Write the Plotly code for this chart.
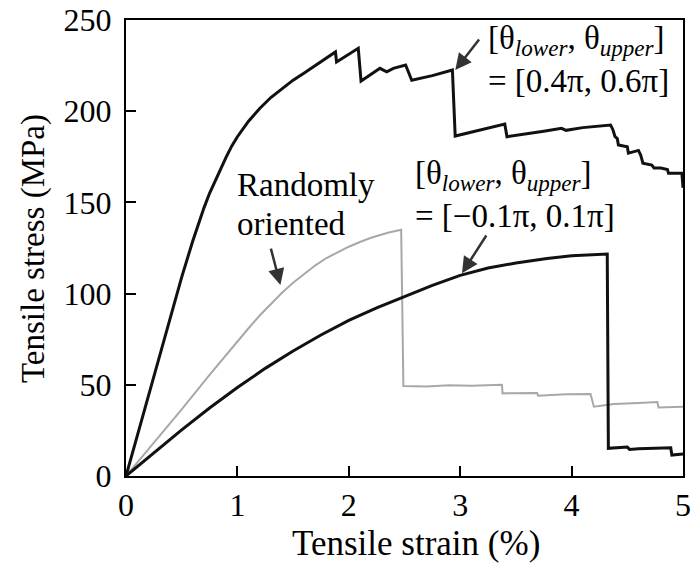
import plotly.graph_objects as go

# Stress-strain curves (strain in %, stress in MPa)
strain_a = [0, 0.1, 0.2, 0.3, 0.4, 0.5, 0.6, 0.65, 0.7, 0.75, 0.8, 0.85, 0.9, 0.95,
            1.0, 1.1, 1.2, 1.3, 1.4, 1.5, 1.6, 1.7, 1.8, 1.88, 1.89, 2.085, 2.11,
            2.28, 2.34, 2.4, 2.51, 2.565, 2.75, 2.93, 2.955, 3.1, 3.25, 3.40, 3.42,
            3.6, 3.75, 3.91, 3.95, 4.1, 4.35, 4.37, 4.39, 4.41, 4.42, 4.5, 4.51,
            4.6, 4.62, 4.64, 4.72, 4.74, 4.8, 4.86, 4.87, 4.99, 5.0]
stress_a = [0, 22, 44, 66, 88, 109, 129, 138.5, 147, 155, 162, 169, 175, 181,
            186, 194.5, 201.5, 207.5, 212.5, 217, 221, 225, 229, 232.5, 227, 234.5, 216.5,
            223.5, 221.6, 223.5, 225.3, 217, 219.5, 222.6, 186.4, 188.5, 190.5, 193, 186,
            187.5, 189, 190.6, 189.5, 191, 192.4, 190, 186, 185, 181.5, 180.5, 177,
            178.5, 176, 171.5, 170.5, 168.8, 168.8, 168, 166, 166, 158]

strain_rand = [0, 0.25, 0.5, 0.75, 1.0, 1.1, 1.2, 1.3, 1.4, 1.5, 1.6, 1.7, 1.8,
               1.9, 2.0, 2.1, 2.2, 2.35, 2.47, 2.49,
               2.7, 2.9, 3.1, 3.375, 3.38, 3.69, 3.70, 3.95, 4.17, 4.2, 4.38, 4.6,
               4.77, 4.78, 5.0]
stress_rand = [0, 18, 36.5, 55.5, 74, 81, 88, 94.5, 100.5, 106, 111, 115.5, 119.5,
               122.8, 125.7, 128.3, 130.6, 133.4, 135, 49.3,
               49, 49.8, 49.5, 50, 45.3, 45.5, 44, 44.8, 45, 38, 39.5, 40,
               40.6, 37.6, 38]

strain_c = [0, 0.25, 0.5, 0.75, 1.0, 1.25, 1.5, 1.75, 2.0, 2.25, 2.5, 2.75, 3.0,
            3.25, 3.5, 3.78, 4.0, 4.2, 4.32, 4.33, 4.45, 4.5, 4.52, 4.6, 4.89, 4.9, 5.0]
stress_c = [0, 12.8, 25.3, 37.3, 48.5, 59, 68.5, 77.3, 85.3, 92.2, 98.5, 104.5, 110,
            114, 116.8, 119.3, 120.7, 121.4, 121.7, 15.2, 15.5, 15.9, 14.6, 15, 15.5, 11.5, 12]

x_ticks = [0, 1, 2, 3, 4, 5]
y_ticks = [0, 50, 100, 150, 200, 250]

FONT = "Liberation Serif, Times New Roman, serif"

fig = go.Figure()
fig.add_trace(go.Scatter(x=strain_rand, y=stress_rand, mode="lines",
                         line=dict(color="#a8a8a8", width=2), showlegend=False))
fig.add_trace(go.Scatter(x=strain_c, y=stress_c, mode="lines",
                         line=dict(color="#111111", width=3), showlegend=False))
fig.add_trace(go.Scatter(x=strain_a, y=stress_a, mode="lines",
                         line=dict(color="#111111", width=3), showlegend=False))

axis_common = dict(showline=True, linecolor="black", linewidth=2, mirror=True,
                   ticks="inside", ticklen=10, tickwidth=2, tickcolor="black",
                   showgrid=False, zeroline=False, automargin=False,
                   tickfont=dict(family=FONT, size=32, color="black"))

fig.update_xaxes(range=[0, 5], tickvals=x_ticks, ticklabelstandoff=0, **axis_common)
fig.update_yaxes(range=[0, 250], tickvals=y_ticks, ticklabelstandoff=6, **axis_common)

# Axis titles
fig.add_annotation(text="Tensile strain (%)", xref="paper", yref="paper",
                   x=0.5206, y=-0.147, xanchor="center", yanchor="middle",
                   showarrow=False, font=dict(family=FONT, size=35, color="black"))
fig.add_annotation(text="Tensile stress (MPa)", xref="paper", yref="paper",
                   x=-0.167, y=0.5, xanchor="center", yanchor="middle",
                   textangle=-90, showarrow=False,
                   font=dict(family=FONT, size=33, color="black"))

ann_font = dict(family=FONT, size=33, color="black")
theta_label = "[θ<sub><i>lower</i></sub>, θ<sub><i>upper</i></sub>]"

texts = [
    (3.234, 238.5, theta_label),
    (3.234, 216.5, "= [0.4π, 0.6π]"),
    (2.58, 164.5, theta_label),
    (2.58, 142.5, "= [−0.1π, 0.1π]"),
    (0.98, 159.5, "Randomly"),
    (0.98, 138.0, "oriented"),
]
for x, y, t in texts:
    fig.add_annotation(x=x, y=y, text=t, showarrow=False, xanchor="left",
                       yanchor="middle", font=ann_font)

# Pointer arrows: (tip x, tip y, tail x, tail y)
arrows = [
    (2.956, 222.6, 3.18, 240.1),
    (1.386, 104.7, 1.297, 125.5),
    (3.016, 111.1, 3.243, 132.7),
]
for x, y, ax, ay in arrows:
    fig.add_annotation(x=x, y=y, ax=ax, ay=ay, xref="x", yref="y",
                       axref="x", ayref="y", text="", showarrow=True,
                       arrowhead=2, arrowsize=1.3, arrowwidth=2.5,
                       arrowcolor="#333333")

fig.update_layout(width=692, height=573, margin=dict(l=126, r=9, t=20, b=97),
                  plot_bgcolor="white", paper_bgcolor="white",
                  font=dict(family=FONT, color="black"))

fig.write_html("out.html")
